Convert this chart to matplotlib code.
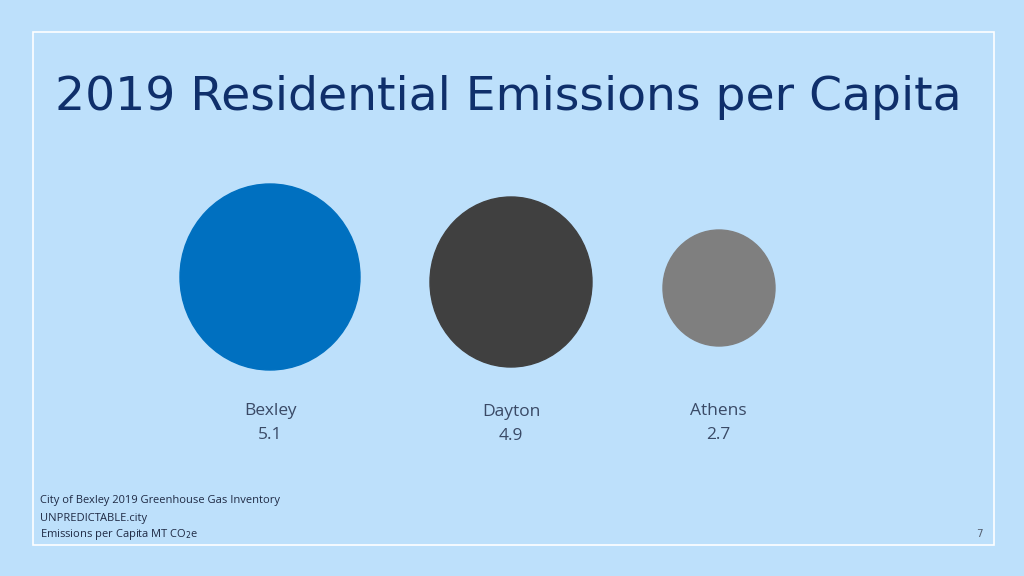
import matplotlib
matplotlib.use("Agg")
import matplotlib.pyplot as plt
from matplotlib.patches import Ellipse, Rectangle

cities = ["Bexley", "Dayton", "Athens"]
emissions = [5.1, 4.9, 2.7]

# styling / layout
colors = ["#0070C0", "#404040", "#7F7F7F"]
centers_x = [270, 511, 719]
centers_y = [277, 282, 288]
widths = [180, 162, 112]
heights = [186, 170, 116]
label_x = [270, 511, 718]
label_y = [411, 412, 411]

fig = plt.figure(figsize=(10.24, 5.76), dpi=100)
fig.patch.set_facecolor("#BDE0FB")
ax = fig.add_axes([0, 0, 1, 1])
ax.set_xlim(0, 1024); ax.set_ylim(576, 0); ax.axis("off")
ax.set_facecolor("#BDE0FB")

ax.add_patch(Rectangle((33, 32), 961, 513, fill=False, ec="white", lw=1.2))
ax.text(55, 97, "2019 Residential Emissions per Capita", fontsize=34,
        color="#0F2F6B", family="DejaVu Sans", va="center", ha="left")

for i, c in enumerate(cities):
    ax.add_patch(Ellipse((centers_x[i], centers_y[i]), widths[i], heights[i], color=colors[i]))
    ax.text(label_x[i], label_y[i], c, fontsize=12.5, color="#3A4A66", ha="center", va="center", family="Open Sans")
    ax.text(label_x[i], label_y[i] + 24, f"{emissions[i]}", fontsize=12.5, color="#3A4A66", ha="center", va="center", family="Open Sans")

foot = ["City of Bexley 2019 Greenhouse Gas Inventory", "UNPREDICTABLE.city"]
ax.text(40, 501, foot[0], fontsize=8, color="#1F2A44", va="center", family="Open Sans")
ax.text(40, 518, foot[1], fontsize=8, color="#1F2A44", va="center", family="Open Sans")
ax.text(40, 534, "Emissions per Capita MT CO$_2$e", fontsize=8, color="#1F2A44", va="center", family="Open Sans")
ax.text(979, 534, "7", fontsize=7.5, color="#556070", ha="center", va="center")

fig.savefig("out.png", dpi=100, facecolor=fig.get_facecolor())
